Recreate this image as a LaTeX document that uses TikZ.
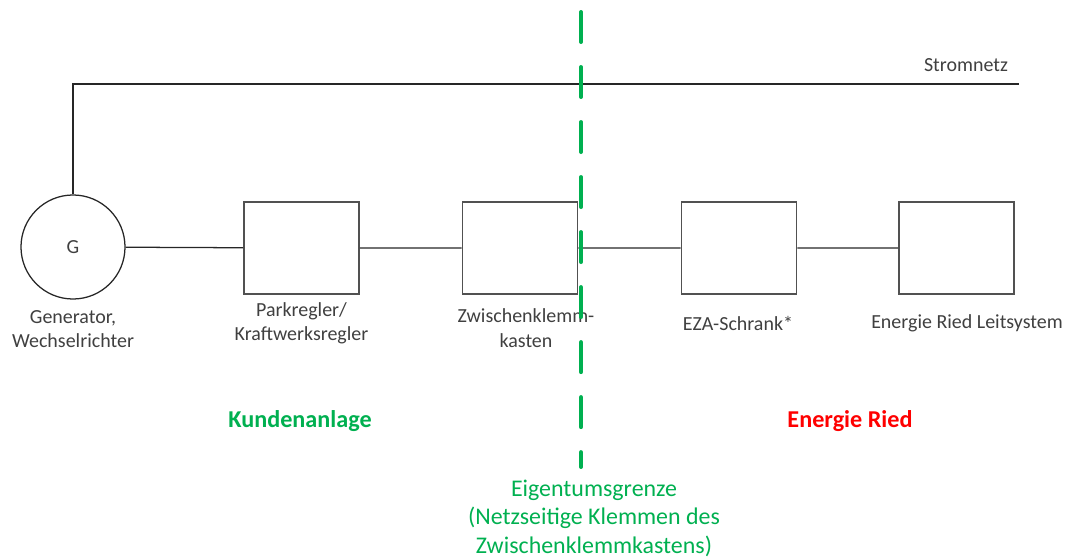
\documentclass[tikz,border=0pt]{standalone}
\usepackage{fontspec}
\setmainfont{Carlito}
\definecolor{grenzgruen}{HTML}{00B050}
\definecolor{riedrot}{HTML}{FF0000}
\definecolor{liniengrau}{HTML}{262626}
\definecolor{textgrau}{HTML}{404040}
\begin{document}
\begin{tikzpicture}[x=0.025cm,y=-0.025cm,
box/.style={draw=liniengrau!80,line width=1.1pt,minimum width=2.875cm,minimum height=2.3cm,inner sep=0pt},
lbl/.style={align=center,text=textgrau,font=\fontsize{14.2}{17.3}\selectfont},
leitung/.style={draw=liniengrau,line width=0.9pt}]
\useasboundingbox(0,0)rectangle(1067,559);
% Geraete
\node[circle,draw=liniengrau,line width=0.9pt,minimum size=2.6cm,inner sep=0pt,lbl](gen)at(73,247){G};
\node[box](park)at(301.5,248){};
\node[box](zwk)at(520,248){};
\node[box](eza)at(739,248){};
\node[box](leit)at(956.5,248){};
% Stromnetz
\coordinate(netzA)at(73,84);
\coordinate(netzB)at(1019,84);
\draw[leitung](gen.north)--(netzA)--(netzB);
\node[lbl](stromnetz)at(966,65){Stromnetz};
\draw[leitung](gen)--(park) (park)--(zwk) (zwk)--(eza) (eza)--(leit);
% Beschriftungen
\node[lbl](genlbl)at(73,329){Generator,\\Wechselrichter};
\node[lbl](parklbl)at(301.5,323){Parkregler/\\Kraftwerksregler};
\node[lbl](zwklbl)at(526,328){Zwischenklemm-\\kasten};
\node[lbl](ezalbl)at(738,323){EZA-Schrank*};
\node[lbl](leitlbl)at(967,323){Energie Ried Leitsystem};
\node[lbl,text=grenzgruen,font=\fontsize{17.2}{20.6}\selectfont\bfseries](kunde)at(300,421){Kundenanlage};
\node[lbl,text=riedrot,font=\fontsize{17.2}{20.6}\selectfont\bfseries](ried)at(850,421){Energie Ried};
% Eigentumsgrenze
\coordinate(grenzeTop)at(581,12);
\coordinate(grenzeBot)at(581,467);
\draw[grenzgruen,line width=2.8pt,line cap=round,dash pattern=on 0.75cm off 0.625cm](grenzeTop)--(grenzeBot);
\node[lbl,text=grenzgruen,font=\fontsize{17}{20.3}\selectfont](grenze)at(594,518){Eigentumsgrenze\\(Netzseitige Klemmen des\\Zwischenklemmkastens)};
\end{tikzpicture}
\end{document}
